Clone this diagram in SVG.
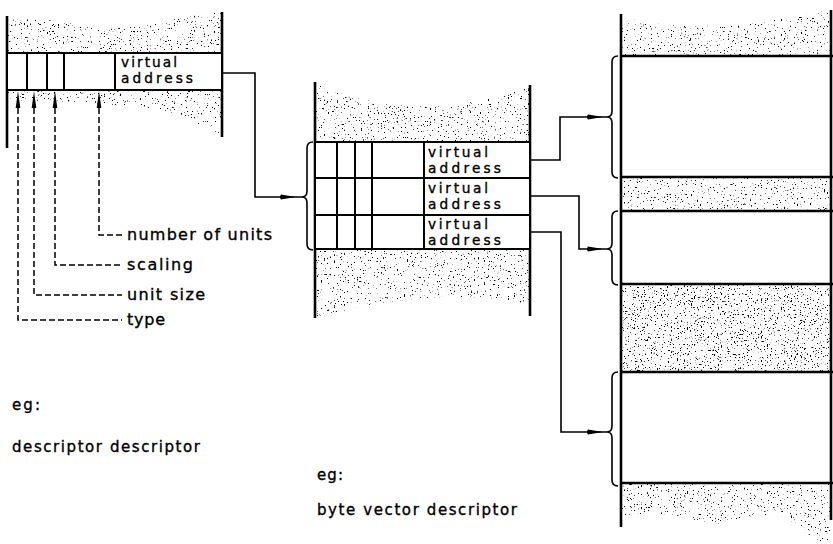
<svg xmlns="http://www.w3.org/2000/svg" width="833" height="544" viewBox="0 0 833 544">
<defs>
<filter id="stip" x="0" y="0" width="1" height="1" color-interpolation-filters="sRGB">
<feTurbulence type="fractalNoise" baseFrequency="0.7" numOctaves="2" seed="4" result="n"/>
<feColorMatrix in="n" type="matrix" values="0 0 0 0 0  0 0 0 0 0  0 0 0 0 0  14 0 0 0 -9.35" result="d"/>
<feComposite in="d" in2="SourceGraphic" operator="in"/>
</filter>
<filter id="stipD" x="0" y="0" width="1" height="1" color-interpolation-filters="sRGB">
<feTurbulence type="fractalNoise" baseFrequency="0.7" numOctaves="2" seed="9" result="n"/>
<feColorMatrix in="n" type="matrix" values="0 0 0 0 0  0 0 0 0 0  0 0 0 0 0  14 0 0 0 -8.95" result="d"/>
<feComposite in="d" in2="SourceGraphic" operator="in"/>
</filter>
<path id="ah" d="M0,0 L-15,-2.6 Q-17,0 -15,2.6 Z"/>
<path id="au" d="M0,0 L-2.3,17 L2.3,17 Z"/>
</defs>
<style>
.wall{stroke:#000;stroke-width:2.6;fill:none}
.box{stroke:#000;stroke-width:2;fill:#fff}
.ln{stroke:#000;stroke-width:2;fill:none}
.con{stroke:#000;stroke-width:1.6;fill:none}
.dash{stroke:#000;stroke-width:1.5;fill:none;stroke-dasharray:6 3}
.st{fill:#000;filter:url(#stip)}
.std{fill:#000;filter:url(#stipD)}
text{font-family:"DejaVu Sans","Liberation Sans",sans-serif;font-size:16px;fill:#000;stroke:#000;stroke-width:0.35}
.lab{font-size:15px}
.va{font-size:13.7px}
</style>

<g id="descriptor-descriptor">
<path class="st" d="M8,18 L60,21 L100,30 L140,26 L180,18 L221,12 L221,53 L8,53 Z"/>
<path class="st" d="M8,90 L221,90 L221,134 L205,128 L185,116 L150,108 L100,104 L50,101 L8,100 Z"/>
<line class="wall" x1="7" y1="16" x2="7" y2="148"/>
<line class="wall" x1="222" y1="12" x2="222" y2="137"/>
<rect class="box" x="7" y="53" width="215" height="37"/>
<path class="ln" d="M27,53 V90 M47,53 V90 M64,53 V90 M115,53 V90"/>
<text class="va" x="121" y="67" textLength="56" lengthAdjust="spacing">virtual</text>
<text class="va" x="121" y="83" textLength="72" lengthAdjust="spacing">address</text>
</g>

<g id="field-labels">
<use href="#au" x="18" y="91"/>
<use href="#au" x="34" y="91"/>
<use href="#au" x="55" y="91"/>
<use href="#au" x="99" y="91"/>
<path class="dash" d="M18,108 V320 H122"/>
<path class="dash" d="M34,108 V295 H122"/>
<path class="dash" d="M55,108 V265 H122"/>
<path class="dash" d="M99,108 V235 H122"/>
<text x="127" y="240" textLength="145" lengthAdjust="spacing">number of units</text>
<text x="127" y="270" textLength="66" lengthAdjust="spacing">scaling</text>
<text x="127" y="300" textLength="78" lengthAdjust="spacing">unit size</text>
<text x="127" y="325" textLength="38" lengthAdjust="spacing">type</text>
</g>

<g id="byte-vector-descriptors">
<path class="st" d="M316,84 Q420,128 529,86 L529,142 L316,142 Z"/>
<path class="st" d="M316,249 L529,249 L529,304 Q430,285 316,318 Z"/>
<line class="wall" x1="315" y1="82" x2="315" y2="318"/>
<line class="wall" x1="530" y1="85" x2="530" y2="316"/>
<rect class="box" x="315" y="142" width="215" height="107"/>
<path class="ln" d="M315,178 H530 M315,215 H530 M337,142 V249 M355,142 V249 M372,142 V249 M424,142 V249"/>
<text class="va" x="428" y="157" textLength="60" lengthAdjust="spacing">virtual</text>
<text class="va" x="428" y="173" textLength="73" lengthAdjust="spacing">address</text>
<text class="va" x="428" y="193" textLength="60" lengthAdjust="spacing">virtual</text>
<text class="va" x="428" y="209" textLength="73" lengthAdjust="spacing">address</text>
<text class="va" x="428" y="229" textLength="60" lengthAdjust="spacing">virtual</text>
<text class="va" x="428" y="245" textLength="73" lengthAdjust="spacing">address</text>
</g>

<g id="memory">
<path class="st" d="M622,17 Q700,38 830,10 L830,56 L622,56 Z"/>
<rect class="st" x="622" y="177" width="208" height="34"/>
<rect class="std" x="622" y="284" width="208" height="88"/>
<path class="st" d="M622,483 L830,483 L830,544 L815,540 L795,522 L760,514 L720,524 L680,518 L650,514 L622,516 Z"/>
<line class="wall" x1="621" y1="14" x2="621" y2="527"/>
<line class="wall" x1="831" y1="10" x2="831" y2="520"/>
<path class="wall" d="M621,56 H833 M621,177 H833 M621,211 H833 M621,284 H833 M621,372 H833 M621,483 H833"/>
</g>

<g id="connectors">
<path class="con" d="M313,142 Q307,142 307,148 L307,191 Q307,197 302,197 Q307,197 307,203 L307,244 Q307,250 313,250"/>
<path class="con" d="M618,56 Q612,56 612,62 L612,111 Q612,117 607,117 Q612,117 612,123 L612,172 Q612,178 618,178"/>
<path class="con" d="M618,211 Q612,211 612,217 L612,243 Q612,249 607,249 Q612,249 612,255 L612,279 Q612,285 618,285"/>
<path class="con" d="M618,372 Q612,372 612,378 L612,426 Q612,432 607,432 Q612,432 612,438 L612,480 Q612,486 618,486"/>
<path class="con" d="M222,73 H255 V197 H303"/>
<path class="con" d="M530,160 H560 V117 H607"/>
<path class="con" d="M530,196 H579 V249 H607"/>
<path class="con" d="M530,232 H561 V432 H607"/>
<use href="#ah" x="296" y="197"/>
<use href="#ah" x="603" y="117"/>
<use href="#ah" x="603" y="249"/>
<use href="#ah" x="603" y="432"/>
</g>

<g id="captions">
<text class="lab" x="12" y="410" textLength="28" lengthAdjust="spacing">eg:</text>
<text class="lab" x="12" y="452" textLength="188" lengthAdjust="spacing">descriptor descriptor</text>
<text class="lab" x="317" y="480" textLength="26" lengthAdjust="spacing">eg:</text>
<text class="lab" x="317" y="515" textLength="200" lengthAdjust="spacing">byte vector descriptor</text>
</g>
</svg>
